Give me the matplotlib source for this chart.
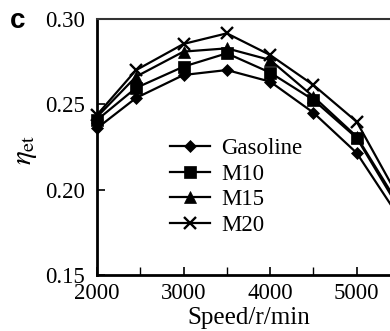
import numpy as np
import matplotlib
matplotlib.use("Agg")
import matplotlib.pyplot as plt
from matplotlib.ticker import MultipleLocator

plt.rcParams['font.family'] = ['Liberation Serif', 'DejaVu Serif']
plt.rcParams['mathtext.fontset'] = 'stix'

# engine speed (r/min) and effective thermal efficiency
speed = [2000, 2450, 3000, 3500, 4000, 4500, 5000, 5500]
gasoline = [0.236, 0.2537, 0.2672, 0.2701, 0.2633, 0.2451, 0.2215, 0.183]
m10 = [0.2408, 0.2596, 0.2721, 0.2799, 0.2686, 0.2526, 0.2303, 0.188]
m15 = [0.2426, 0.2662, 0.2809, 0.2828, 0.2760, 0.2545, 0.2311, 0.190]
m20 = [0.2438, 0.2700, 0.2854, 0.2916, 0.2789, 0.2613, 0.2398, 0.194]

labels = ['Gasoline', 'M10', 'M15', 'M20']
markers = ['D', 's', '^', 'x']

fig = plt.figure(figsize=(3.9, 3.31), dpi=100)
ax = fig.add_axes([97 / 390, 56 / 331, 303 / 390, 256 / 331])

for y, lab, mk in zip([gasoline, m10, m15, m20], labels, markers):
    ms = 6.5 if mk == 'D' else 8
    ax.plot(speed, y, color='black', lw=1.6, marker=mk, ms=ms,
            mew=1.7 if mk == 'x' else 0.5, label=lab, clip_on=False)

ax.set_xlim(2000, 5500)
ax.set_ylim(0.15, 0.30)
ax.xaxis.set_major_locator(MultipleLocator(1000))
ax.xaxis.set_minor_locator(MultipleLocator(500))
ax.yaxis.set_major_locator(MultipleLocator(0.05))
ax.yaxis.set_major_formatter(plt.FormatStrFormatter('%.2f'))

ax.tick_params(axis='both', which='both', direction='in', labelsize=16.5)
ax.tick_params(axis='both', which='major', length=6, width=1.2)
ax.tick_params(axis='both', which='minor', length=6, width=1.0)
ax.tick_params(axis='y', pad=9)
ax.tick_params(axis='x', pad=6)

for side in ['left', 'bottom']:
    ax.spines[side].set_linewidth(2)
ax.spines['top'].set_linewidth(1.5)
ax.spines['top'].set_color('#333333')
ax.spines['right'].set_visible(False)

ax.set_xlabel('Speed/r/min', fontsize=18, labelpad=2)
ax.set_ylabel(r'$\eta_{\rm et}$', fontsize=21)
ax.yaxis.set_label_coords(-0.19, 0.49)

ax.legend(loc='upper left', bbox_to_anchor=(170 / 390, 1 - 138 / 331),
          bbox_transform=fig.transFigure, frameon=False, fontsize=16.5,
          handlelength=1.75, handletextpad=0.5, labelspacing=0.2,
          borderpad=0, borderaxespad=0)

fig.text(10 / 390, 1 - 21 / 331, 'c', fontsize=20, fontweight='bold',
         family='Liberation Sans', ha='left', va='center')

fig.savefig('out.png', dpi=100)
